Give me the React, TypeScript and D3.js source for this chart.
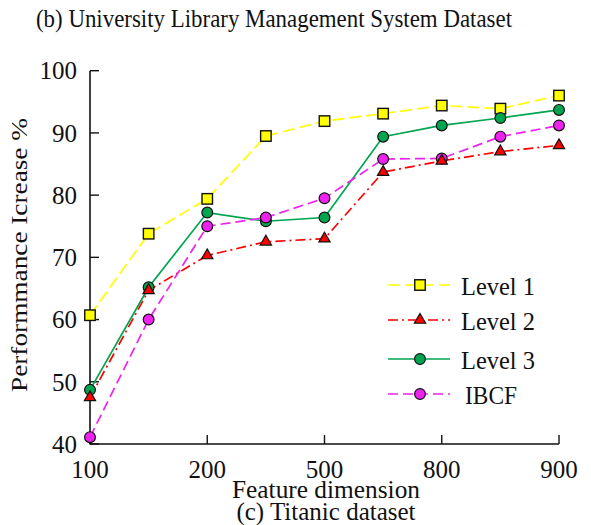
import React from "react";
import * as d3 from "d3";

// Feature dimension steps (nine evenly spaced samples, every other one labelled)
const steps = ["100", "150", "200", "350", "500", "650", "800", "850", "900"];
const tickLabels = ["100", "200", "500", "800", "900"];
const yTicks = [40, 50, 60, 70, 80, 90, 100];

const level1 = [60.7, 73.8, 79.4, 89.5, 91.9, 93.1, 94.4, 93.9, 96.0];
const level2 = [47.5, 64.7, 70.3, 72.5, 73.0, 83.7, 85.5, 87.0, 88.0];
const level3 = [48.7, 65.2, 77.2, 75.8, 76.4, 89.4, 91.2, 92.4, 93.7];
const ibcf = [41.1, 60.0, 75.0, 76.4, 79.5, 85.8, 85.9, 89.4, 91.2];

const textStyle = { fontFamily: '"Liberation Serif"' };

type Series = {
  name: string;
  values: number[];
  color: string;
  dash: string | undefined;
  marker: "square" | "triangle" | "circle";
  fill: string;
};

const series: Series[] = [
  { name: "Level 1", values: level1, color: "#ffff00", dash: "12,5", marker: "square", fill: "#ffff00" },
  { name: "Level 2", values: level2, color: "#ff0000", dash: "10,4,2,4", marker: "triangle", fill: "#ff0000" },
  { name: "Level 3", values: level3, color: "#00a550", dash: undefined, marker: "circle", fill: "#00a550" },
  { name: "IBCF", values: ibcf, color: "#ee22ee", dash: "10,5", marker: "circle", fill: "#ee22ee" },
];

// markers drawn in this order so the triangles sit on top
const markerOrder = [0, 2, 3, 1];

const width = 591;
const height = 525;
const left = 90;
const right = 559;
const top = 70.7;
const bottom = 444;

function Marker({ kind, x, y, fill }: { kind: string; x: number; y: number; fill: string }) {
  if (kind === "square") {
    const s = 10.5;
    return <rect x={x - s / 2} y={y - s / 2} width={s} height={s} fill={fill} stroke="#111" strokeWidth={1.4} />;
  }
  if (kind === "triangle") {
    const sym = d3.symbol().type(d3.symbolTriangle).size(55)();
    return <path d={sym || ""} transform={`translate(${x},${y})`} fill={fill} stroke="#111" strokeWidth={1.2} />;
  }
  return <circle cx={x} cy={y} r={5.4} fill={fill} stroke="#111" strokeWidth={1.2} />;
}

export default function App() {
  const x = d3.scalePoint<string>().domain(steps).range([left, right]);
  const y = d3.scaleLinear().domain([40, 100]).range([bottom, top]);
  const line = d3
    .line<number>()
    .x((_, i) => x(steps[i]) as number)
    .y((v) => y(v));

  const legendX1 = 388;
  const legendX2 = 450;
  const legendRows = [285, 320, 359, 394];

  return (
    <svg width={width} height={height} style={{ position: "absolute", left: 0, top: 0, background: "#fff" }}>
      <text x={36} y={27} style={textStyle} fontSize={25} textLength={476} lengthAdjust="spacingAndGlyphs" fill="#111">
        (b) University Library Management System Dataset
      </text>

      {/* axes */}
      <line x1={left} x2={left} y1={top} y2={bottom + 0.5} stroke="#111" strokeWidth={1.6} />
      <line x1={left} x2={right} y1={bottom} y2={bottom} stroke="#111" strokeWidth={1.6} />
      {yTicks.map((t) => (
        <g key={t}>
          <line x1={left} x2={left + 9} y1={y(t)} y2={y(t)} stroke="#111" strokeWidth={1.4} />
          <text x={77} y={y(t)} dy="0.35em" textAnchor="end" style={textStyle} fontSize={25} fill="#111">
            {t}
          </text>
        </g>
      ))}
      {tickLabels.map((t) => (
        <g key={t}>
          <line x1={x(t)} x2={x(t)} y1={bottom} y2={bottom - 9} stroke="#111" strokeWidth={1.4} />
          <text x={x(t)} y={478} textAnchor="middle" style={textStyle} fontSize={25} fill="#111">
            {t}
          </text>
        </g>
      ))}
      <text x={326} y={498} textAnchor="middle" style={textStyle} fontSize={25} textLength={188} lengthAdjust="spacingAndGlyphs" fill="#111">
        Feature dimension
      </text>
      <text x={326} y={520} textAnchor="middle" style={textStyle} fontSize={25} fill="#111">
        (c) Titanic dataset
      </text>
      <text
        transform={`translate(27,255) rotate(-90)`}
        textAnchor="middle"
        style={textStyle}
        fontSize={24}
        textLength={274}
        lengthAdjust="spacingAndGlyphs"
        fill="#111"
      >
        Performmance Icrease %
      </text>

      {/* series lines */}
      {series.map((s) => (
        <path
          key={s.name}
          d={line(s.values) || ""}
          fill="none"
          stroke={s.color}
          strokeWidth={1.7}
          strokeDasharray={s.dash}
        />
      ))}
      {markerOrder.map((si) =>
        series[si].values.map((v, i) => (
          <Marker key={`${si}-${i}`} kind={series[si].marker} x={x(steps[i]) as number} y={y(v)} fill={series[si].fill} />
        ))
      )}

      {/* legend */}
      {series.map((s, i) => (
        <g key={s.name}>
          <line
            x1={legendX1}
            x2={legendX2}
            y1={legendRows[i]}
            y2={legendRows[i]}
            stroke={s.color}
            strokeWidth={1.7}
            strokeDasharray={s.dash}
          />
          <Marker kind={s.marker} x={(legendX1 + legendX2) / 2 + 1} y={legendRows[i]} fill={s.fill} />
          <text
            x={i === 3 ? 465 : 461}
            y={legendRows[i] + 10}
            style={textStyle}
            fontSize={26}
            textLength={i === 3 ? 52 : 74}
            lengthAdjust="spacingAndGlyphs"
            fill="#111"
          >
            {s.name}
          </text>
        </g>
      ))}
    </svg>
  );
}
